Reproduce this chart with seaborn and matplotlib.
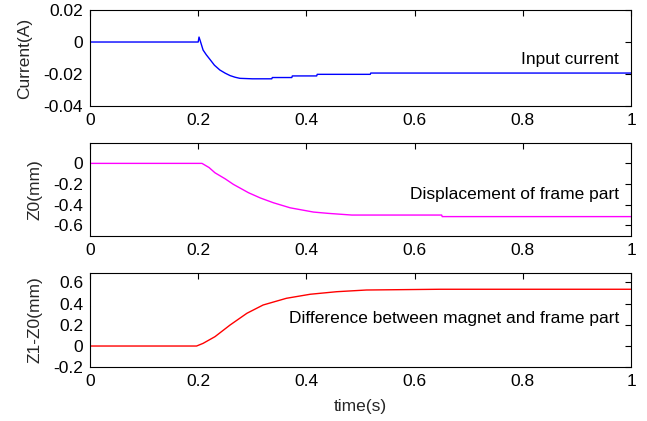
import matplotlib
matplotlib.use("Agg")
import matplotlib.pyplot as plt
import seaborn as sns
import pandas as pd

# ---- data ----
t_current = [0, 0.200, 0.2015, 0.204, 0.209, 0.215, 0.222, 0.230, 0.240, 0.250, 0.259,
             0.268, 0.277, 0.300, 0.336, 0.337, 0.373, 0.374, 0.419, 0.420, 0.518, 0.519, 1.0]
current = [0, 0, 0.0031, 0.0005, -0.005, -0.008, -0.011, -0.0145, -0.0175, -0.0195, -0.021,
           -0.022, -0.0227, -0.0230, -0.0230, -0.0222, -0.0222, -0.0212, -0.0212, -0.0202,
           -0.0202, -0.0194, -0.0194]

t_z0 = [0, 0.207, 0.220, 0.231, 0.250, 0.265, 0.293, 0.315, 0.339, 0.370, 0.413, 0.441,
        0.484, 0.650, 0.651, 1.0]
z0 = [0, 0, -0.04, -0.091, -0.15, -0.203, -0.284, -0.335, -0.381, -0.43, -0.471, -0.484,
      -0.50, -0.50, -0.515, -0.515]

t_diff = [0, 0.197, 0.209, 0.231, 0.259, 0.290, 0.320, 0.363, 0.407, 0.456, 0.511, 0.647, 1.0]
diff = [0, 0, 0.025, 0.088, 0.198, 0.308, 0.386, 0.449, 0.487, 0.511, 0.527, 0.534, 0.534]

x_ticks = [0, 0.2, 0.4, 0.6, 0.8, 1.0]
x_ticklabels = ["0", "0.2", "0.4", "0.6", "0.8", "1"]
y1_ticks = [-0.04, -0.02, 0, 0.02]
y1_ticklabels = ["-0.04", "-0.02", "0", "0.02"]
y2_ticks = [-0.6, -0.4, -0.2, 0]
y2_ticklabels = ["-0.6", "-0.4", "-0.2", "0"]
y3_ticks = [-0.2, 0, 0.2, 0.4, 0.6]
y3_ticklabels = ["-0.2", "0", "0.2", "0.4", "0.6"]

ylabels = ["Current(A)", "Z0(mm)", "Z1-Z0(mm)"]
annotations = ["Input current", "Displacement of frame part",
               "Difference between magnet and frame part"]
colors = ["#0000ff", "#ff00ff", "#ff0000"]

# ---- style ----
sns.set_style("white")
plt.rcParams['font.family'] = ['Liberation Sans', 'DejaVu Sans']
FS = 12.5

fig = plt.figure(figsize=(6.47, 4.21), dpi=100)
positions = [
    [0.1391, 0.7482, 0.8362, 0.2280],
    [0.1391, 0.4401, 0.8362, 0.2209],
    [0.1391, 0.1276, 0.8362, 0.2247],
]
ylims = [(-0.04, 0.02), (-0.7, 0.2), (-0.2, 0.69)]
ytick_sets = [(y1_ticks, y1_ticklabels), (y2_ticks, y2_ticklabels), (y3_ticks, y3_ticklabels)]
datasets = [(t_current, current), (t_z0, z0), (t_diff, diff)]
ann_y = [-0.0112, -0.297, 0.26]

for i in range(3):
    ax = fig.add_axes(positions[i])
    df = pd.DataFrame({"t": datasets[i][0], "v": datasets[i][1]})
    sns.lineplot(data=df, x="t", y="v", ax=ax, color=colors[i], linewidth=1.0,
                 estimator=None, sort=False)
    ax.set_xlim(0, 1)
    ax.set_ylim(*ylims[i])
    ax.set_xticks(x_ticks)
    ax.set_xticklabels(x_ticklabels)
    ax.set_yticks(ytick_sets[i][0])
    ax.set_yticklabels(ytick_sets[i][1])
    ax.set_ylabel(ylabels[i], fontsize=FS, labelpad=8)
    ax.set_xlabel("time(s)" if i == 2 else "", fontsize=FS, labelpad=7)
    ax.tick_params(direction='in', top=True, right=True, length=4, width=0.8,
                   labelsize=FS, colors='black', pad=5)
    for s in ax.spines.values():
        s.set_color('black')
        s.set_linewidth(0.8)
    ax.text(0.978, ann_y[i], annotations[i], ha='right', va='center',
            fontsize=FS, color='black')

fig.savefig("out.png", dpi=100)
